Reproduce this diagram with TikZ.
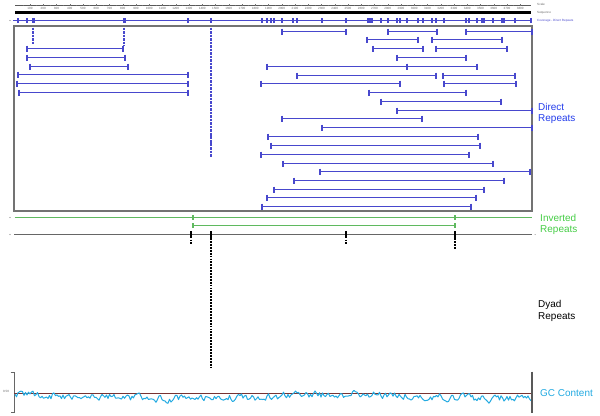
\documentclass[tikz,border=0pt]{standalone}
\usepackage{fontspec}
\setmainfont{Liberation Sans}
\usetikzlibrary{arrows.meta}
\definecolor{repblue}{RGB}{72,72,205}
\definecolor{dirblue}{RGB}{35,60,235}
\definecolor{invgreen}{RGB}{95,185,95}
\definecolor{invtext}{RGB}{70,205,70}
\definecolor{gccyan}{RGB}{35,170,225}
\definecolor{framegray}{RGB}{115,115,115}

\begin{document}
\begin{tikzpicture}[
    x=0.03cm, y=-0.03cm,
    rep/.style={repblue, line width=0.03cm},
    repcap/.style={repblue, line width=0.06cm},
    covmark/.style={repblue, line width=0.06cm},
    repdash/.style={repblue, line width=0.06cm, dash pattern=on 2.2pt off 0.8pt},
    dyaddash/.style={black, line width=1.3pt, dash pattern=on 1.6pt off 0.9pt},
    track/.style={line width=0.03cm},
    label/.style={anchor=west, align=left, inner sep=0pt, font=\fontsize{8.5}{9.6}\selectfont},
    tiny/.style={inner sep=0pt, font=\fontsize{2.6}{3}\selectfont, text=black!60}
]
    \useasboundingbox (0,0) rectangle (600,415);

    % Scale and sequence
    \draw[black!65, line width=0.03cm] (15,5.5) -- (531,5.5);
    \foreach \i [evaluate=\i as \v using int(100*\i)] in {1,...,38} {
        \draw[black!55, line width=0.3pt] ({16.7+13.25*\i},5.5) -- ++(0,-1.8);
        \draw[black!55, line width=0.3pt] ({10.1+13.25*\i},5.5) -- ++(0,-1);
        \node[tiny] (num\i) at ({16.7+13.25*\i},8.6) {\v};
    }
    \fill[black] (15,11) rectangle (531,14);
    \node[tiny, anchor=west] (scale) at (537,4.5) {Scale};
    \node[tiny, anchor=west] (seq) at (537,12.5) {Sequence};
    \node[tiny, anchor=west, text=repblue] (cov) at (537,20.5) {Coverage - Direct Repeats};

    % Coverage - direct repeats
    \fill[black!50] (10,20.5) circle (0.7);
    \draw[rep] (13,20.5) -- (531,20.5);
    \foreach \x in {18,27,188,211,262,267,271,274,282,293,297,322,346,368,370,372,381,388,397,400,407,418,423,432,436,444,466,469,477,482,484,493,502,504,515,531}
        \draw[covmark] (\x,18) -- (\x,23);
    \draw[covmark, line width=0.09cm] (33.5,18) -- (33.5,23);
    \draw[covmark, line width=0.09cm] (124.5,18) -- (124.5,23);

    % Direct repeats
    \draw[framegray, line width=0.06cm] (14,26) rectangle (532,211);
    \draw[repdash] (33,27.5) -- (33,44);
    \draw[repdash] (124,27.5) -- (124,46);
    \draw[repdash] (211,27.5) -- (211,157);
    \foreach \y/\a/\b in {
        48.5/27/123, 57.5/27/125, 66.5/30/128, 74.5/18/188, 83.5/17/188, 92.5/19/188,
        31.5/282/346, 31.5/388/437, 31.5/466/532,
        39.5/367/418, 39.5/432/502,
        48.5/373/423, 48.5/436/507,
        57.5/397/466,
        66.5/267/407, 66.5/407/477,
        75.5/297/436, 75.5/443/515,
        83.5/261/400, 83.5/444/516,
        92.5/369/466, 101.5/381/501, 110.5/397/532,
        118.5/282/422, 127.5/322/532, 136.5/268/478,
        145.5/271/480, 154.5/261/469, 163.5/283/493,
        171.5/320/530, 180.5/294/504, 189.5/274/484,
        197.5/267/476, 206.5/262/471} {
        \draw[rep] (\a,\y) -- (\b,\y);
        \draw[repcap] (\a,\y-3) -- (\a,\y+3) (\b,\y-3) -- (\b,\y+3);
    }
    \node[label, text=dirblue] (direct) at (538,113.5) {Direct\\Repeats};

    % Inverted repeats
    \fill[black!50] (10,217.5) circle (0.7);
    \draw[invgreen, track] (14.5,217.5) -- (532,217.5);
    \draw[invgreen, line width=0.06cm] (193,215) -- (193,220);
    \draw[invgreen, line width=0.06cm] (455,215) -- (455,220);
    \draw[invgreen, track] (193,225.5) -- (455,225.5);
    \draw[invgreen, line width=0.06cm] (193,223) -- (193,228) (455,223) -- (455,228);
    \node[label, text=invtext] (inverted) at (540,224.5) {Inverted\\Repeats};

    % Dyad repeats
    \fill[black!50] (10,234.5) circle (0.7);
    \fill[black!50] (535,234.5) circle (0.5);
    \draw[black!60, track] (14,234.5) -- (532,234.5);
    \foreach \x in {191,211,346,455}
        \draw[black, line width=0.06cm] (\x,231) -- (\x,238);
    \draw[dyaddash] (191,239.5) -- (191,244);
    \draw[dyaddash] (346,239.5) -- (346,243.5);
    \draw[dyaddash] (455,238) -- (455,249);
    \draw[dyaddash, line width=0.06cm] (211,238) -- (211,267);
    \draw[dyaddash, line width=0.9pt] (211,267) -- (211,367);
    \node[label, text=black] (dyad) at (538,311) {Dyad\\Repeats};

    % GC content
    \draw[black!60, line width=0.8pt] (10.5,372.5) -- (14,372.5) -- (14,412) -- (10.5,412);
    \node[tiny] (gcval) at (6,391.5) {0.50};
    \draw[black!55!red!60!gray, line width=0.03cm] (14,393.5) -- (532,393.5);
    \pgfmathsetseed{31}
    \def\gcpath{}
    \def\gcdev{0}
    \foreach \x in {16.5,18,...,531} {
        \pgfmathsetmacro\gcnew{0.5*\gcdev+3.4*rand}
        \pgfmathsetmacro\gcy{396.6+1.8*sin((\x-100)*1.1)+\gcnew}
        \xdef\gcdev{\gcnew}
        \xdef\gcpath{\gcpath -- (\x,\gcy)}
    }
    \draw[gccyan, line width=0.85pt, line join=round] (15,394) \gcpath;
    \draw[black!65, line width=1.2pt] (532,371.5) -- (532,412.5);
    \node[label, text=gccyan] (gc) at (540,393.5) {GC Content};

\end{tikzpicture}
\end{document}
